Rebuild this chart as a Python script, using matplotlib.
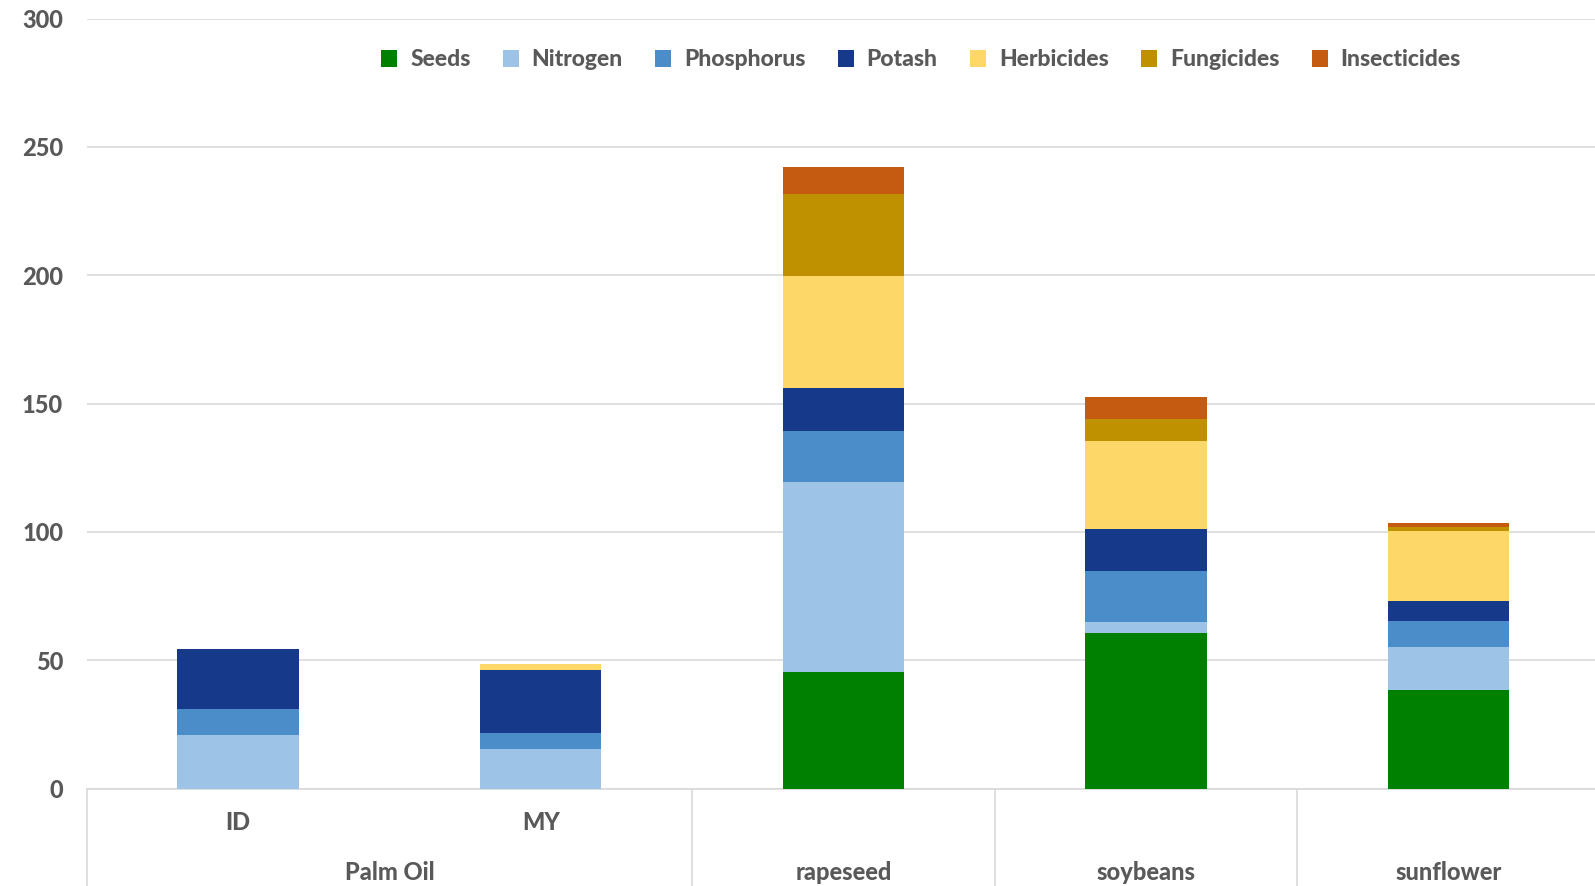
import matplotlib
matplotlib.use("Agg")
import matplotlib.pyplot as plt
import matplotlib.transforms as mtransforms
from matplotlib.lines import Line2D
import numpy as np

# Input cost components per crop (stacked)
categories = ["ID", "MY", "", "", ""]
groups = ["Palm Oil", "rapeseed", "soybeans", "sunflower"]
group_spans = [(0, 1), (2, 2), (3, 3), (4, 4)]

seeds = [0.0, 0.0, 45.4, 60.4, 38.3]
nitrogen = [20.7, 15.2, 73.9, 4.4, 16.8]
phosphorus = [10.4, 6.5, 20.1, 20.0, 10.0]
potash = [23.2, 24.3, 16.6, 16.2, 8.1]
herbicides = [0.0, 2.5, 43.8, 34.2, 27.3]
fungicides = [0.0, 0.0, 31.8, 8.6, 1.3]
insecticides = [0.0, 0.0, 10.7, 8.9, 1.5]

series_names = ["Seeds", "Nitrogen", "Phosphorus", "Potash",
                "Herbicides", "Fungicides", "Insecticides"]
series_values = [seeds, nitrogen, phosphorus, potash,
                 herbicides, fungicides, insecticides]
series_colors = ["#008000", "#9DC3E6", "#4A8DC8", "#17398A",
                 "#FDD868", "#BF9000", "#C55A11"]

y_ticks = [0, 50, 100, 150, 200, 250, 300]

TEXT = "#595959"
GRID = "#D9D9D9"
FONT = "Lato"
WEIGHT = 900

W, H = 1595, 886
fig = plt.figure(figsize=(W / 100, H / 100), dpi=100)
fig.patch.set_facecolor("white")

left_px, right_px, top_px, bottom_px = 86.7, 1600.0, 18.5, 788.5
ax = fig.add_axes([left_px / W, 1 - bottom_px / H,
                   (right_px - left_px) / W, (bottom_px - top_px) / H])

x = np.arange(len(categories))
bottom = np.zeros(len(categories))
for name, vals, col in zip(series_names, series_values, series_colors):
    vals = np.asarray(vals, dtype=float)
    ax.bar(x, vals, width=0.4, bottom=bottom, color=col, label=name,
           edgecolor="none", zorder=3)
    bottom += vals

ax.set_xlim(-0.5, len(categories) - 0.5)
ax.set_ylim(0, 300)
ax.set_yticks(y_ticks)
ax.set_yticklabels([str(v) for v in y_ticks], fontsize=17, color=TEXT,
                   fontfamily=FONT, fontweight=WEIGHT)
ax.tick_params(axis="y", length=0, pad=17)
ax.set_xticks([])
ax.yaxis.grid(True, color=GRID, linewidth=1.2, zorder=0)
for s in ["top", "right", "left"]:
    ax.spines[s].set_visible(False)
ax.spines["bottom"].set_color(GRID)
ax.spines["bottom"].set_linewidth(1.2)

# Two-level category axis
trans = mtransforms.blended_transform_factory(ax.transData, ax.transAxes)
for xi, lab in zip(x, categories):
    if lab:
        ax.text(xi, -0.044, lab, transform=trans, ha="center", va="center",
                fontsize=17, color=TEXT, fontfamily=FONT, fontweight=WEIGHT,
                clip_on=False)
for (a, b), g in zip(group_spans, groups):
    ax.text((a + b) / 2, -0.109, g, transform=trans, ha="center",
            va="center", fontsize=17, color=TEXT, fontfamily=FONT,
            fontweight=WEIGHT, clip_on=False)
for sep in [-0.5] + [b + 0.5 for (a, b) in group_spans]:
    ax.add_line(Line2D([sep, sep], [0, -0.2], transform=trans, color=GRID,
                       linewidth=1.2, clip_on=False))

leg = fig.legend(loc="center", bbox_to_anchor=(921 / W, 1 - 60 / H), ncol=7,
                 frameon=False, handlelength=0.7, handleheight=0.7,
                 handletextpad=0.55, columnspacing=1.42,
                 prop={"family": FONT, "weight": WEIGHT, "size": 16.5})
for t in leg.get_texts():
    t.set_color(TEXT)

fig.savefig("out.png", dpi=100, facecolor="white")
